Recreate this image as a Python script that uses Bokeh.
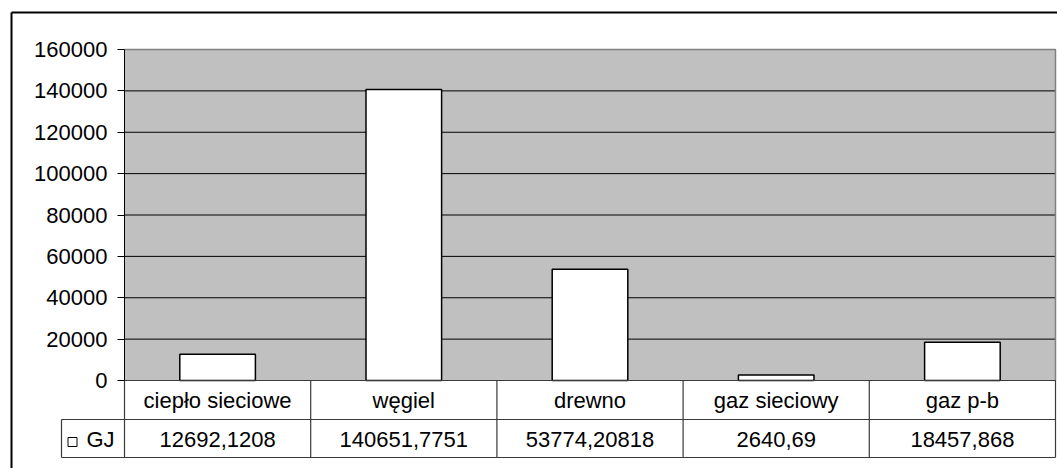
from bokeh.plotting import figure
from bokeh.models import Range1d, LinearAxis, FixedTicker, BasicTickFormatter
from bokeh.core.properties import value
from bokeh.embed import file_html
from bokeh.resources import INLINE

# --- data -------------------------------------------------------------
categories = ["ciepło sieciowe", "węgiel", "drewno", "gaz sieciowy", "gaz p-b"]
gj_values = [12692.1208, 140651.7751, 53774.20818, 2640.69, 18457.868]
series_name = "GJ"
y_ticks = [0, 20000, 40000, 60000, 80000, 100000, 120000, 140000, 160000]

# --- layout (pixels) --------------------------------------------------
W, H = 1057, 468
PLOT_L, PLOT_R, PLOT_T, PLOT_B = 124, 1055, 49, 380
ROW1_B, ROW2_B = 419, 457
KEY_L = 61
FONT = value("Liberation Sans")
FONT_SIZE = "22px"

n = len(categories)
y_max = y_ticks[-1]
cat_w = (PLOT_R - PLOT_L) / n
y_scale = (PLOT_B - PLOT_T) / y_max


def dx(px):
    """canvas x pixel -> data x"""
    return (px - PLOT_L) / cat_w


def dy(py):
    """canvas y pixel -> data y"""
    return (PLOT_B - py) / y_scale


p = figure(
    width=W, height=H,
    x_range=Range1d(dx(0), dx(W)), y_range=Range1d(dy(H), dy(0)),
    x_axis_location=None, y_axis_location=None,
    output_backend="svg", toolbar_location=None, min_border=0,
)
p.outline_line_color = None
p.grid.visible = False
p.title.visible = False

# plot area
p.quad(left=0, right=n, bottom=0, top=y_max, fill_color="#C0C0C0", line_color=None)
p.segment(x0=[0] * len(y_ticks), x1=[n] * len(y_ticks), y0=y_ticks, y1=y_ticks,
          line_color="black", line_width=1)
# plot area frame (top / right)
p.segment(x0=[0, n], x1=[n, n], y0=[y_max, y_max], y1=[y_max, 0],
          line_color="#808080", line_width=1.5)

# bars
xs = [i + 0.5 for i in range(n)]
p.vbar(x=xs, top=gj_values, bottom=0, width=0.406,
       fill_color="white", line_color="black", line_width=1.5)

# value axis
yaxis = LinearAxis(
    fixed_location=0, bounds=(0, y_max),
    ticker=FixedTicker(ticks=y_ticks),
    formatter=BasicTickFormatter(use_scientific=False),
    major_tick_in=0, major_tick_out=7, minor_tick_in=0, minor_tick_out=0,
    major_label_standoff=10,
    major_label_text_font="Liberation Sans", major_label_text_font_size=FONT_SIZE,
    major_label_text_color="black",
    axis_line_color="black", major_tick_line_color="black",
)
p.add_layout(yaxis, "left")

# data table below the chart
tc = "#3a3a3a"
p.segment(x0=[0, dx(KEY_L), dx(KEY_L)], x1=[n, n, n],
          y0=[0, dy(ROW1_B), dy(ROW2_B)], y1=[0, dy(ROW1_B), dy(ROW2_B)],
          line_color=tc, line_width=1.2)
p.segment(x0=[0] + [i + 1 for i in range(n)], x1=[0] + [i + 1 for i in range(n)],
          y0=[0] * (n + 1), y1=[dy(ROW2_B)] * (n + 1), line_color=tc, line_width=1.2)
p.segment(x0=[dx(KEY_L)], x1=[dx(KEY_L)], y0=[dy(ROW1_B)], y1=[dy(ROW2_B)],
          line_color=tc, line_width=1.2)

row1_mid = dy((PLOT_B + ROW1_B) / 2)
row2_mid = dy((ROW1_B + ROW2_B) / 2 + 1)
p.text(x=xs, y=[row1_mid] * n, text=categories, text_font=FONT,
       text_font_size=FONT_SIZE, text_align="center", text_baseline="middle",
       text_color="black")
p.text(x=xs, y=[row2_mid] * n, text=[f"{v}".replace(".", ",") for v in gj_values],
       text_font=FONT, text_font_size=FONT_SIZE, text_align="center",
       text_baseline="middle", text_color="black")

# legend key
p.rect(x=[dx(72)], y=[dy(441.5)], width=9, height=9, width_units="screen",
       height_units="screen", fill_color="white", line_color="black", line_width=1)
p.text(x=[dx(86)], y=[row2_mid], text=[series_name], text_font=FONT,
       text_font_size=FONT_SIZE, text_align="left", text_baseline="middle",
       text_color="black")

# chart frame
p.segment(x0=[dx(11), dx(11)], x1=[dx(W + 5), dx(11)], y0=[dy(12), dy(12)],
          y1=[dy(12), dy(H + 5)], line_color="black", line_width=2)

open("out.html", "w").write(file_html(p, INLINE))
